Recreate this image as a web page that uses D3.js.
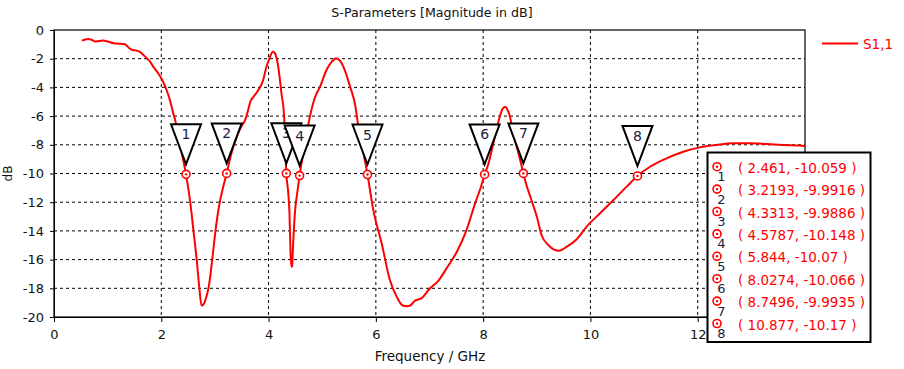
<!DOCTYPE html>
<html>
<head>
<meta charset="utf-8">
<script src="https://cdn.jsdelivr.net/npm/d3@7"></script>
<style>
body{margin:0;background:#fff;}
svg{display:block;font-family:"DejaVu Sans",sans-serif;}
</style>
</head>
<body>
<svg id="chart" width="904" height="369"></svg>
<script>
// S1,1 trace (GHz, dB)
const freq = [0.52,0.58,0.64,0.70,0.76,0.84,0.92,1.00,1.11,1.20,1.32,1.40,1.45,1.52,1.60,1.67,1.73,1.80,1.85,1.93,
  2.02,2.10,2.16,2.22,2.26,2.33,2.40,2.461,2.54,2.60,2.66,2.71,2.75,2.79,2.84,2.88,2.95,3.01,3.08,3.15,3.2193,
  3.30,3.40,3.48,3.56,3.62,3.66,3.72,3.81,3.90,3.96,4.01,4.08,4.12,4.18,4.24,4.29,4.3313,4.37,4.39,4.41,4.425,
  4.44,4.45,4.49,4.54,4.5787,4.65,4.72,4.77,4.87,4.96,5.08,5.18,5.26,5.33,5.42,5.52,5.62,5.66,5.75,5.844,5.95,
  6.11,6.26,6.39,6.50,6.58,6.64,6.73,6.85,7.01,7.16,7.32,7.51,7.69,7.85,7.97,8.0274,8.10,8.19,8.31,8.36,8.41,
  8.46,8.50,8.56,8.66,8.7496,8.78,8.90,9.00,9.09,9.22,9.32,9.42,9.56,9.74,9.93,10.18,10.43,10.68,10.877,11.11,
  11.42,11.73,12.04,12.35,12.66,12.98,13.29,13.60,13.91,14.00];
const s11 = [-0.74,-0.66,-0.62,-0.68,-0.80,-0.76,-0.74,-0.80,-0.92,-0.95,-1.00,-1.25,-1.38,-1.42,-1.52,-1.75,-1.97,-2.25,-2.55,-2.95,
  -3.50,-4.20,-4.88,-5.75,-6.30,-7.60,-8.90,-10.059,-12.0,-14.0,-16.0,-18.0,-19.2,-19.1,-18.6,-18.0,-16.0,-14.0,-12.2,-11.0,-9.9916,
  -8.7,-7.5,-6.8,-6.3,-5.57,-5.0,-4.65,-4.18,-3.48,-2.56,-2.04,-1.51,-1.63,-2.56,-4.41,-6.04,-9.9886,-11.5,-12.8,-15.6,-16.5,
  -16.5,-15.6,-12.8,-11.2,-10.148,-8.5,-7.0,-6.04,-4.65,-3.95,-2.79,-2.21,-1.97,-2.14,-2.79,-3.95,-5.34,-6.39,-8.2,-10.07,-12.5,
  -14.9,-17.4,-18.6,-19.2,-19.25,-19.2,-18.86,-18.7,-18.0,-17.5,-16.6,-15.45,-13.94,-12.08,-10.8,-10.066,-9.3,-7.9,-6.04,-5.5,-5.34,
  -5.6,-6.04,-7.2,-8.6,-9.9935,-10.45,-11.85,-13.0,-14.3,-15.0,-15.3,-15.38,-15.1,-14.6,-13.7,-12.77,-11.85,-10.9,-10.17,-9.53,
  -8.94,-8.48,-8.18,-8.01,-7.9,-7.9,-7.95,-8.01,-8.05,-8.1];

// markers
const markerFreq = [2.461,3.2193,4.3313,4.5787,5.844,8.0274,8.7496,10.877];
const markerVal = [-10.059,-9.9916,-9.9886,-10.148,-10.07,-10.066,-9.9935,-10.17];

const xTicks = [0,2,4,6,8,10,12,14];
const yTicks = [0,-2,-4,-6,-8,-10,-12,-14,-16,-18,-20];

const svg = d3.select("#chart");
const x = d3.scaleLinear().domain([0,14]).range([54,805]);
const y = d3.scaleLinear().domain([0,-20]).range([30,317]);

// grid
svg.append("g").selectAll("line").data(xTicks.slice(1,-1)).join("line")
  .attr("x1",d=>x(d)).attr("x2",d=>x(d)).attr("y1",30).attr("y2",317)
  .attr("stroke","#000").attr("stroke-dasharray","3,3");
svg.append("g").selectAll("line").data(yTicks.slice(1,-1)).join("line")
  .attr("y1",d=>y(d)).attr("y2",d=>y(d)).attr("x1",54).attr("x2",805)
  .attr("stroke","#000").attr("stroke-dasharray","3,3");

// axes (the 14 label sits under the marker table, so it is left blank)
const xAxis = svg.append("g").attr("transform","translate(0,317)")
  .call(d3.axisBottom(x).tickValues(xTicks).tickSize(5).tickSizeOuter(0).tickPadding(8)
    .tickFormat(d=>d===14?"":d));
const yAxis = svg.append("g").attr("transform","translate(54,0)")
  .call(d3.axisLeft(y).tickValues(yTicks).tickSize(4).tickSizeOuter(0).tickPadding(6)
    .tickFormat(d=>d===0?"0":"-"+Math.abs(d)));
[xAxis,yAxis].forEach(a=>{
  a.selectAll("text").attr("font-size",13).attr("fill","#111").attr("font-family","DejaVu Sans");
  a.select(".domain").attr("stroke","#000");
});

// frame
svg.append("rect").attr("x",54).attr("y",30).attr("width",751).attr("height",287)
  .attr("fill","none").attr("stroke","#000").attr("stroke-width",1.2);

// trace
const data = freq.map((f,i)=>[f,s11[i]]);
svg.append("path").datum(data)
  .attr("fill","none").attr("stroke","#ff0000").attr("stroke-width",2)
  .attr("d",d3.line().x(d=>x(d[0])).y(d=>y(d[1])).curve(d3.curveMonotoneX));

// marker triangles
const mk = svg.append("g");
markerFreq.forEach((f,i)=>{
  const cx = x(f), cy = y(markerVal[i]);
  mk.append("path")
    .attr("d",`M${cx-15},${cy-50}L${cx+15},${cy-50}L${cx},${cy-10}Z`)
    .attr("fill","#fff").attr("stroke","#000").attr("stroke-width",2);
  mk.append("text").attr("x",cx).attr("y",cy-35).attr("text-anchor","middle")
    .attr("font-size",14).attr("fill","#1c1c3c").text(i+1);
  mk.append("circle").attr("cx",cx).attr("cy",cy).attr("r",4)
    .attr("fill","#fff").attr("stroke","#ff0000").attr("stroke-width",1.6);
  mk.append("circle").attr("cx",cx).attr("cy",cy).attr("r",1.2).attr("fill","#ff0000");
});

// title and labels
svg.append("text").attr("x",432).attr("y",17).attr("text-anchor","middle")
  .attr("font-size",12.6).attr("fill","#111").text("S-Parameters [Magnitude in dB]");
svg.append("text").attr("x",430).attr("y",361).attr("text-anchor","middle")
  .attr("font-size",13.5).attr("fill","#111").text("Frequency / GHz");
svg.append("text").attr("transform","translate(12,173.5) rotate(-90)").attr("text-anchor","middle")
  .attr("font-size",12).attr("fill","#111").text("dB");

// legend
svg.append("line").attr("x1",822).attr("x2",858).attr("y1",43.5).attr("y2",43.5)
  .attr("stroke","#ff0000").attr("stroke-width",2);
svg.append("text").attr("x",863).attr("y",48.5).attr("font-size",13.5).attr("fill","#ff0000").text("S1,1");

// marker table
const box = svg.append("g");
box.append("rect").attr("x",707.5).attr("y",152.5).attr("width",163).attr("height",189.5)
  .attr("fill","#fff").attr("stroke","#000").attr("stroke-width",2);
markerFreq.forEach((f,i)=>{
  const ry = 166.7 + i*22.4;
  box.append("circle").attr("cx",717).attr("cy",ry).attr("r",4)
    .attr("fill","#fff").attr("stroke","#ff0000").attr("stroke-width",1.6);
  box.append("circle").attr("cx",717).attr("cy",ry).attr("r",1.2).attr("fill","#ff0000");
  box.append("text").attr("x",721.5).attr("y",ry+14.5).attr("text-anchor","middle")
    .attr("font-size",13).attr("fill","#1c1c3c").text(i+1);
  box.append("text").attr("x",738).attr("y",ry+6).attr("font-size",13.5)
    .attr("fill","#ff0000").text(`( ${f}, ${markerVal[i]} )`);
});
</script>
</body>
</html>
